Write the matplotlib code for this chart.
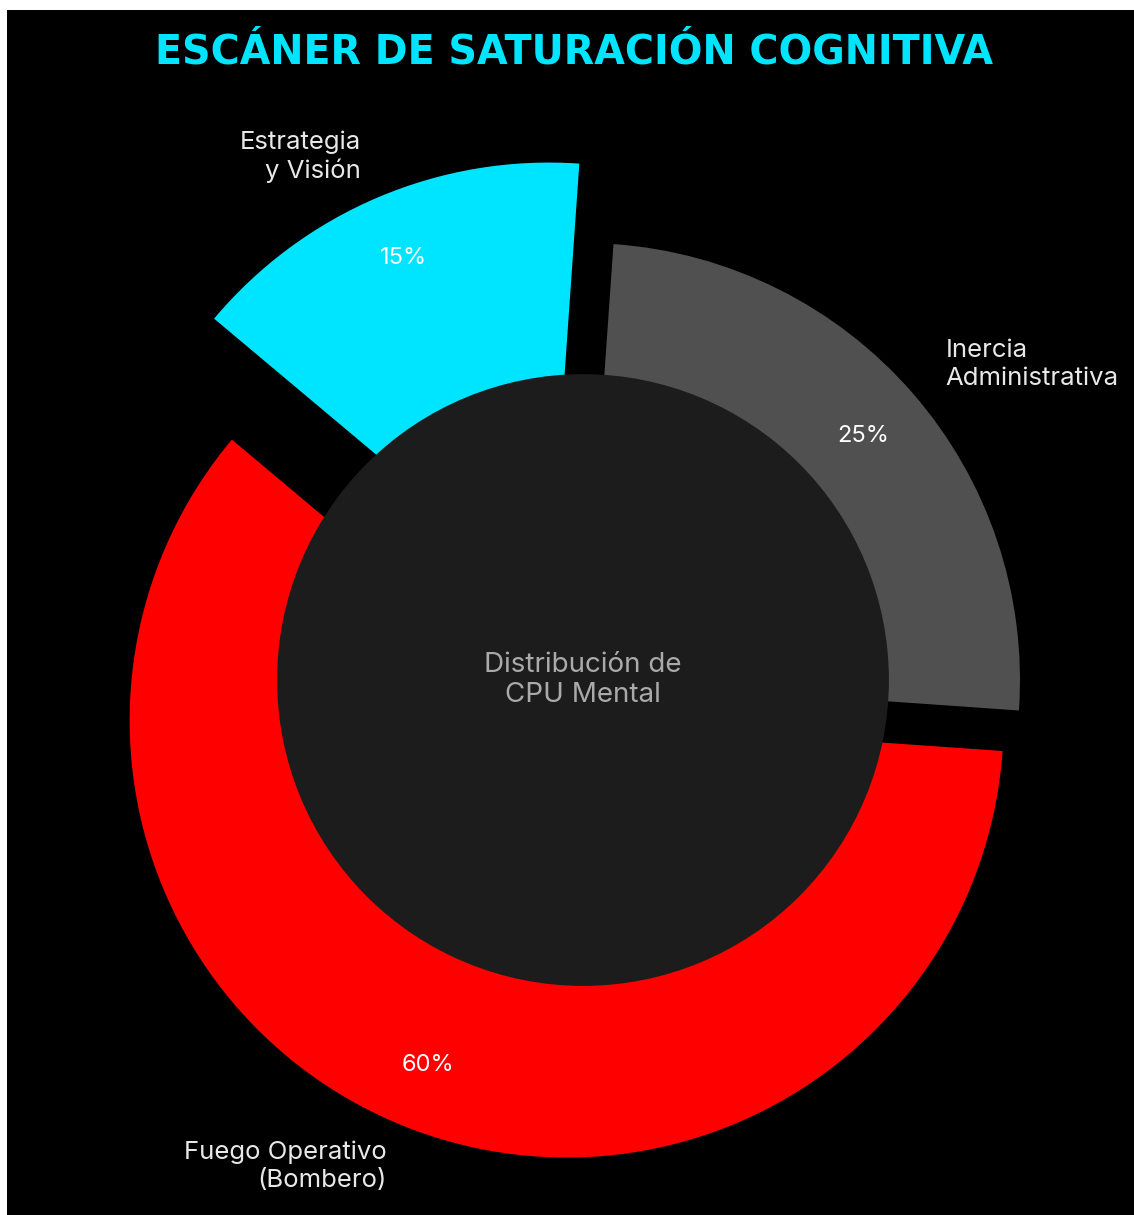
import matplotlib.pyplot as plt
from matplotlib.patches import Rectangle, Circle

# Datos del escaner
categorias = ['Estrategia\ny Visión', 'Inercia\nAdministrativa', 'Fuego Operativo\n(Bombero)']
valores = [15, 25, 60]
colores = ['#00E5FF', '#505050', '#FF0000']
separacion = [0.2, 0.0, 0.1]

titulo = 'ESCÁNER DE SATURACIÓN COGNITIVA'
texto_centro = 'Distribución de\nCPU Mental'

plt.rcParams['font.family'] = ['Inter', 'DejaVu Sans']

fig = plt.figure(figsize=(11.34, 12.15), dpi=100, facecolor='white')
# fondo negro con el pequeño margen blanco arriba y a la izquierda
fig.add_artist(Rectangle((7 / 1134, 0), 1, 1 - 10 / 1215, transform=fig.transFigure,
                         facecolor='black', edgecolor='none', zorder=0))

ax = fig.add_axes([0, 0, 1, 1])
ax.set_facecolor('none')
ax.axis('off')

wedges, textos, pcts = ax.pie(valores, labels=categorias, colors=colores, explode=separacion,
                              startangle=140, counterclock=False, autopct='%1.0f%%',
                              pctdistance=0.85, labeldistance=1.1,
                              textprops={'fontsize': 18.5, 'color': '#E8E8E8'})
for t in textos:
    t.set_linespacing(1.25)
for t in pcts:
    t.set_color('white')
    t.set_fontsize(17)

ax.add_patch(Circle((0, 0), 0.70, facecolor='#1C1C1C', edgecolor='none', zorder=3))
ax.text(0, 0, texto_centro, ha='center', va='center', fontsize=20, color='#AAAAAA', zorder=4)

# escala: 437 px por unidad, centro en (583, 680)
ax.set_xlim(-583 / 437, (1134 - 583) / 437)
ax.set_ylim(-(1215 - 680) / 437, 680 / 437)

fig.text(574 / 1134, 1 - 52 / 1215, titulo, ha='center', va='center', fontsize=28.5,
         fontweight='bold', color='#00E5FF', family='DejaVu Sans')

fig.savefig('out.png', dpi=100)
